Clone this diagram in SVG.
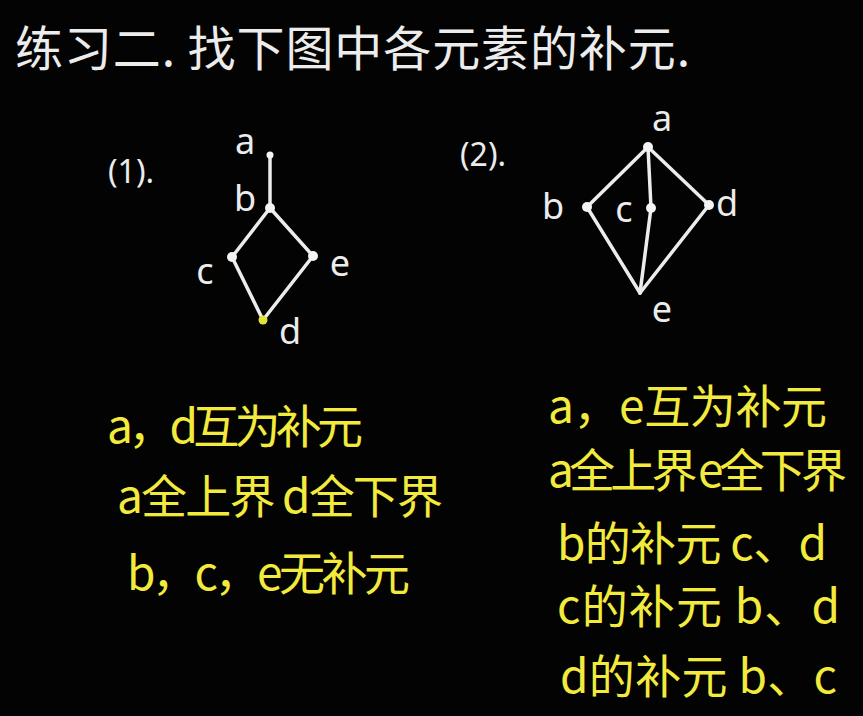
<svg xmlns="http://www.w3.org/2000/svg" width="863" height="716" viewBox="0 0 863 716">
<style>
.w{fill:#ececec;font-family:"Noto Sans","Noto Sans CJK SC",sans-serif}
.cj{font-family:"Noto Sans CJK SC","Noto Sans",sans-serif}
.y{fill:#f2ea3c;font-family:"Noto Sans CJK SC","Noto Sans",sans-serif;font-size:46px}
.lbl{fill:#ececec;font-family:"Noto Sans",sans-serif;font-size:36px}
.e{stroke:#ececec;stroke-width:3.5;stroke-linecap:round;fill:none}
.n{fill:#f4f4f4}
</style>
<rect width="863" height="716" fill="#030303"/>
<text id="title" class="w cj" x="15" y="45" font-size="48" dominant-baseline="central" textLength="675" lengthAdjust="spacing">练习二. 找下图中各元素的补元.</text>

<g id="connectors">
<line class="e" x1="270" y1="155" x2="270" y2="208"/>
<line class="e" x1="270" y1="208" x2="232" y2="257"/>
<line class="e" x1="270" y1="208" x2="313" y2="256"/>
<line class="e" x1="232" y1="257" x2="263" y2="320"/>
<line class="e" x1="313" y1="256" x2="263" y2="320"/>
<line class="e" x1="648" y1="147" x2="587" y2="207"/>
<line class="e" x1="648" y1="147" x2="651" y2="208"/>
<line class="e" x1="648" y1="147" x2="709" y2="205"/>
<line class="e" x1="587" y1="207" x2="640" y2="293"/>
<line class="e" x1="651" y1="208" x2="640" y2="293"/>
<line class="e" x1="709" y1="205" x2="640" y2="293"/>
</g>

<g id="graph1">
<text class="w" x="108" y="170" font-size="32" dominant-baseline="central">(1).</text>
<g id="g1-a"><circle class="n" cx="270" cy="155" r="3.5"/><text class="lbl" x="245" y="140" text-anchor="middle" dominant-baseline="central">a</text></g>
<g id="g1-b"><circle class="n" cx="270" cy="208" r="5"/><text class="lbl" x="245" y="197" text-anchor="middle" dominant-baseline="central">b</text></g>
<g id="g1-c"><circle class="n" cx="232" cy="257" r="5"/><text class="lbl" x="205" y="270" text-anchor="middle" dominant-baseline="central">c</text></g>
<g id="g1-e"><circle class="n" cx="313" cy="256" r="5"/><text class="lbl" x="340" y="262" text-anchor="middle" dominant-baseline="central">e</text></g>
<g id="g1-d"><circle cx="263" cy="320" r="4.5" fill="#e8e03a"/><text class="lbl" x="290" y="330" text-anchor="middle" dominant-baseline="central">d</text></g>
</g>

<g id="graph2">
<text class="w" x="460" y="153" font-size="32" dominant-baseline="central">(2).</text>
<g id="g2-a"><circle class="n" cx="648" cy="147" r="5"/><text class="lbl" x="662" y="117" text-anchor="middle" dominant-baseline="central">a</text></g>
<g id="g2-b"><circle class="n" cx="587" cy="207" r="5"/><text class="lbl" x="553" y="205" text-anchor="middle" dominant-baseline="central">b</text></g>
<g id="g2-c"><circle class="n" cx="651" cy="208" r="5"/><text class="lbl" x="624" y="208" text-anchor="middle" dominant-baseline="central">c</text></g>
<g id="g2-d"><circle class="n" cx="709" cy="205" r="5"/><text class="lbl" x="727" y="202" text-anchor="middle" dominant-baseline="central">d</text></g>
<g id="g2-e"><text class="lbl" x="662" y="308" text-anchor="middle" dominant-baseline="central">e</text></g>
</g>

<g id="answers1">
<text class="y" x="107" y="423" dominant-baseline="central" textLength="256" lengthAdjust="spacing">a，d互为补元</text>
<text class="y" x="117" y="493" dominant-baseline="central" textLength="326" lengthAdjust="spacing">a全上界 d全下界</text>
<text class="y" x="127" y="570" dominant-baseline="central" textLength="283" lengthAdjust="spacing">b，c，e无补元</text>
</g>

<g id="answers2">
<text class="y" x="548" y="403" dominant-baseline="central" textLength="279" lengthAdjust="spacing">a，e互为补元</text>
<text class="y" x="548" y="467" dominant-baseline="central" textLength="299" lengthAdjust="spacing">a全上界 e全下界</text>
<text class="y" x="557" y="540" dominant-baseline="central" textLength="270" lengthAdjust="spacing">b的补元 c、d</text>
<text class="y" x="557" y="603" dominant-baseline="central" textLength="283" lengthAdjust="spacing">c的补元 b、d</text>
<text class="y" x="560" y="673" dominant-baseline="central" textLength="277" lengthAdjust="spacing">d的补元 b、c</text>
</g>
</svg>
